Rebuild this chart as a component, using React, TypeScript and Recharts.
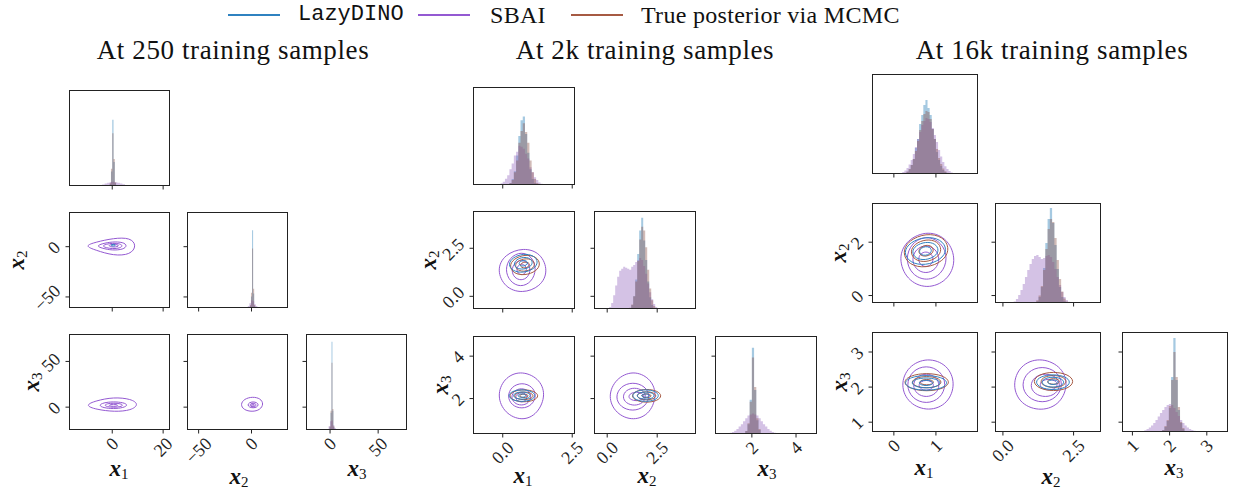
import React from 'react';
import { ComposedChart, Area, Line, XAxis, YAxis } from 'recharts';

const SERIF = '"Liberation Serif", "Times New Roman", "DejaVu Serif", serif';
const MONO = '"Liberation Mono", "DejaVu Sans Mono", monospace';
const INK = '#222';

// series order everywhere: LazyDINO, SBAI, MCMC
const seriesNames = ['LazyDINO', 'SBAI', 'True posterior via MCMC'];
const lineColors = ['#2f82c0', '#9459d2', '#a65a43'];
const fillColors = ['#1f77b4', '#9467bd', '#8c564b'];

type Hist = { from: number; step: number; counts: number[] };
type Axis = { domain: [number, number]; ticks: number[]; fmt: (v: number) => string };

const fmtInt = (v: number) => String(v).replace('-', '\u2212');
const fmtOne = (v: number) => v.toFixed(1).replace('-', '\u2212');

// ---------- 250 training samples ----------
const x1Ticks250 = [0, 20];
const x2Ticks250 = [-50, 0];
const x3Ticks250 = [0, 50];

const lazy250X1: Hist = { from: -1, step: 0.5, counts: [0.02, 0.15, 0.69, 0.25, 0.03] };
const sbai250X1: Hist = { from: -6, step: 1, counts: [0.003, 0.008, 0.015, 0.025, 0.035, 0.042, 0.045, 0.04, 0.035, 0.025, 0.018, 0.01, 0.004] };
const mcmc250X1: Hist = { from: -1, step: 0.5, counts: [0.03, 0.18, 0.55, 0.28, 0.04] };
const lazy250X2: Hist = { from: -1.5, step: 1, counts: [0.02, 0.12, 0.81, 0.15, 0.02] };
const sbai250X2: Hist = { from: -5, step: 1.5, counts: [0.005, 0.02, 0.05, 0.08, 0.07, 0.04, 0.02, 0.008, 0.003] };
const mcmc250X2: Hist = { from: -1.5, step: 1, counts: [0.03, 0.16, 0.62, 0.2, 0.03] };
const lazy250X3: Hist = { from: -0.5, step: 1, counts: [0.03, 0.18, 0.92, 0.2, 0.03] };
const sbai250X3: Hist = { from: -3, step: 1.5, counts: [0.01, 0.04, 0.09, 0.1, 0.05, 0.02, 0.005] };
const mcmc250X3: Hist = { from: -0.5, step: 1, counts: [0.04, 0.2, 0.7, 0.22, 0.04] };

// contour levels, each a closed ring [x0, y0, x1, y1, ...]
const lazy250X1X2 = [[1.3, 1.5, 1.0, 2.1, 0.4, 2.4, -0.2, 2.1, -0.5, 1.5, -0.2, 0.9, 0.4, 0.6, 1.0, 0.9]];
const sbai250X1X2 = [
  [9.6, 1.0, 7.2, 9.0, 0.5, 8.5, -6.5, 4.5, -11, 0.8, -6.5, -3.5, 0.5, -9.0, 7.2, -8.0],
  [5.9, 1.0, 4.4, 4.5, 0, 5.0, -4.0, 3.0, -6.2, 0.7, -4.0, -1.6, 0, -3.7, 4.4, -2.8],
  [4.2, 0.9, 3.0, 3.0, 0.2, 3.6, -2.6, 2.4, -3.9, 0.7, -2.6, -1.0, 0.2, -2.2, 3.0, -1.5],
  [2.6, 1.0, 2.0, 2.0, 0.6, 2.43, -0.8, 2.0, -1.4, 1.0, -0.8, 0, 0.6, -0.43, 2.0, 0],
];
const sbai250X1X3 = [
  [10.5, 3.0, 7.5, 9.0, 0.5, 11.0, -6.5, 7.0, -10.8, 2.0, -6.5, -2.5, 1.0, -5.2, 7.5, -3.5],
  [6.2, 2.3, 4.5, 5.0, 0.45, 6.1, -3.6, 4.8, -5.3, 2.0, -3.6, -0.7, 0.45, -1.9, 4.5, -0.6],
  [4.3, 2.1, 3.3, 3.8, 0.6, 4.5, -2.1, 3.8, -3.1, 2.1, -2.1, 0.4, 0.6, -0.3, 3.3, 0.4],
  [2.3, 2.0, 1.75, 2.86, 0.5, 3.2, -0.75, 2.86, -1.3, 2.0, -0.75, 1.14, 0.5, 0.8, 1.75, 1.14],
];
const sbai250X2X3 = [
  [11.5, 3.5, 8.5, 9.5, 1.0, 11.5, -7.0, 9.0, -10.5, 3.0, -7.5, -3.0, 0.6, -5.2, 8.2, -3.0],
  [6.7, 2.6, 5.2, 5.0, 1.5, 6.0, -2.2, 5.0, -3.7, 2.4, -2.2, 0, 1.5, -1.0, 5.2, 0],
  [4.6, 2.3, 3.7, 3.8, 1.5, 4.4, -0.7, 3.8, -1.6, 2.3, -0.7, 0.8, 1.5, 0.2, 3.7, 0.8],
  [2.84, 2.2, 2.4, 3.0, 1.3, 3.3, 0.2, 3.0, -0.24, 2.2, 0.2, 1.4, 1.3, 1.1, 2.4, 1.4],
];

// ---------- 2k training samples ----------
const x1Ticks2k = [0, 2.5];
const x2Ticks2k = [0, 2.5];
const x3Ticks2k = [2, 4];

const lazy2kX1: Hist = { from: 0.24, step: 0.08, counts: [0.02, 0.06, 0.14, 0.3, 0.5, 0.66, 0.7, 0.52, 0.33, 0.16, 0.06, 0.02] };
const sbai2kX1: Hist = { from: -0.32, step: 0.08, counts: [0.002, 0.005, 0.009, 0.018, 0.034, 0.064, 0.1, 0.16, 0.22, 0.3, 0.34, 0.4, 0.39, 0.37, 0.32, 0.27, 0.18, 0.13, 0.08, 0.05, 0.025, 0.012, 0.006, 0.002] };
const mcmc2kX1: Hist = { from: 0.24, step: 0.08, counts: [0.02, 0.05, 0.13, 0.25, 0.43, 0.55, 0.63, 0.54, 0.43, 0.25, 0.13, 0.06, 0.02] };
const lazy2kX2: Hist = { from: 1.1, step: 0.1, counts: [0.01, 0.04, 0.13, 0.3, 0.56, 0.8, 0.93, 0.7, 0.5, 0.28, 0.12, 0.04, 0.01] };
const sbai2kX2: Hist = { from: 0.1, step: 0.1, counts: [0.02, 0.06, 0.14, 0.24, 0.33, 0.39, 0.41, 0.43, 0.42, 0.41, 0.4, 0.43, 0.45, 0.48, 0.5, 0.52, 0.5, 0.44, 0.36, 0.26, 0.17, 0.1, 0.05, 0.02, 0.01] };
const mcmc2kX2: Hist = { from: 1.1, step: 0.1, counts: [0.014, 0.047, 0.13, 0.28, 0.49, 0.71, 0.84, 0.8, 0.63, 0.4, 0.21, 0.09, 0.03, 0.01] };
const lazy2kX3: Hist = { from: 1.7, step: 0.1, counts: [0.03, 0.1, 0.35, 0.88, 0.45, 0.14, 0.04, 0.01] };
const sbai2kX3: Hist = { from: 0.6, step: 0.1, counts: [0.001, 0.002, 0.004, 0.007, 0.012, 0.021, 0.034, 0.052, 0.076, 0.1, 0.13, 0.16, 0.19, 0.2, 0.21, 0.2, 0.19, 0.16, 0.13, 0.1, 0.076, 0.052, 0.034, 0.021, 0.012, 0.007, 0.004, 0.002, 0.001] };
const mcmc2kX3: Hist = { from: 1.7, step: 0.1, counts: [0.03, 0.11, 0.33, 0.78, 0.48, 0.16, 0.05, 0.01] };

const lazy2kX1X2 = [
  [1.29, 1.78, 1.13, 2.13, 0.74, 2.23, 0.35, 2.02, 0.19, 1.66, 0.35, 1.31, 0.74, 1.21, 1.13, 1.42],
  [1.09, 1.76, 0.99, 1.99, 0.74, 2.05, 0.49, 1.92, 0.39, 1.68, 0.49, 1.45, 0.74, 1.39, 0.99, 1.52],
  [0.905, 1.74, 0.857, 1.846, 0.74, 1.875, 0.623, 1.812, 0.575, 1.7, 0.623, 1.594, 0.74, 1.565, 0.857, 1.628],
];
const sbai2kX1X2 = [
  [1.64, 1.3, 1.38, 2.25, 0.75, 2.55, 0.06, 2.18, -0.22, 1.38, 0.07, 0.45, 0.7, 0.14, 1.36, 0.5],
  [1.22, 1.42, 1.06, 2.06, 0.67, 2.34, 0.24, 2.02, 0.08, 1.38, 0.25, 0.76, 0.64, 0.46, 1.05, 0.74],
  [1.01, 1.38, 0.91, 1.76, 0.67, 1.91, 0.41, 1.74, 0.31, 1.34, 0.41, 0.97, 0.66, 0.81, 0.91, 0.98],
  [0.87, 1.41, 0.81, 1.61, 0.68, 1.7, 0.55, 1.61, 0.49, 1.39, 0.55, 1.19, 0.68, 1.1, 0.81, 1.19],
];
const mcmc2kX1X2 = [
  [1.37, 1.68, 1.21, 2.08, 0.8, 2.18, 0.39, 1.96, 0.23, 1.58, 0.39, 1.18, 0.8, 1.08, 1.21, 1.3],
  [1.17, 1.66, 1.065, 1.92, 0.8, 1.98, 0.535, 1.84, 0.43, 1.6, 0.535, 1.34, 0.8, 1.28, 1.065, 1.42],
  [0.976, 1.645, 0.925, 1.765, 0.8, 1.795, 0.675, 1.73, 0.624, 1.615, 0.675, 1.495, 0.8, 1.465, 0.925, 1.53],
];
const lazy2kX1X3 = [
  [1.2, 2.14, 1.05, 2.35, 0.69, 2.44, 0.33, 2.35, 0.18, 2.14, 0.33, 1.93, 0.69, 1.84, 1.05, 1.93],
  [1.02, 2.14, 0.924, 2.273, 0.69, 2.327, 0.456, 2.273, 0.36, 2.14, 0.456, 2.007, 0.69, 1.953, 0.924, 2.007],
  [0.844, 2.14, 0.799, 2.202, 0.69, 2.228, 0.581, 2.202, 0.536, 2.14, 0.581, 2.078, 0.69, 2.052, 0.799, 2.078],
];
const sbai2kX1X3 = [
  [1.56, 2.2, 1.3, 2.98, 0.62, 3.33, 0.03, 2.95, -0.21, 2.12, 0.07, 1.3, 0.7, 0.93, 1.27, 1.28],
  [1.22, 2.15, 1.065, 2.58, 0.69, 2.76, 0.315, 2.57, 0.16, 2.11, 0.315, 1.68, 0.69, 1.5, 1.065, 1.69],
  [1.045, 2.09, 0.935, 2.38, 0.67, 2.5, 0.405, 2.38, 0.295, 2.07, 0.405, 1.78, 0.67, 1.66, 0.935, 1.78],
  [0.89, 2.06, 0.826, 2.23, 0.67, 2.3, 0.514, 2.23, 0.45, 2.06, 0.514, 1.89, 0.67, 1.82, 0.826, 1.89],
];
const mcmc2kX1X3 = [
  [1.31, 2.13, 1.15, 2.35, 0.76, 2.44, 0.37, 2.35, 0.21, 2.13, 0.37, 1.91, 0.76, 1.82, 1.15, 1.91],
  [1.123, 2.13, 1.017, 2.27, 0.76, 2.328, 0.503, 2.27, 0.397, 2.13, 0.503, 1.99, 0.76, 1.932, 1.017, 1.99],
  [0.925, 2.13, 0.877, 2.192, 0.76, 2.218, 0.643, 2.192, 0.595, 2.13, 0.643, 2.068, 0.76, 2.042, 0.877, 2.068],
];
const lazy2kX2X3 = [
  [2.62, 2.14, 2.42, 2.35, 1.92, 2.44, 1.42, 2.35, 1.22, 2.14, 1.42, 1.93, 1.92, 1.84, 2.42, 1.93],
  [2.38, 2.14, 2.25, 2.273, 1.92, 2.327, 1.59, 2.273, 1.46, 2.14, 1.59, 2.007, 1.92, 1.953, 2.25, 2.007],
  [2.14, 2.14, 2.076, 2.202, 1.92, 2.228, 1.764, 2.202, 1.7, 2.14, 1.764, 2.078, 1.92, 2.052, 2.076, 2.078],
];
const sbai2kX2X3 = [
  [2.5, 2.25, 2.14, 2.98, 1.3, 3.33, 0.42, 2.95, 0.02, 2.1, 0.42, 1.28, 1.32, 0.93, 2.18, 1.3],
  [2.16, 2.12, 1.9, 2.59, 1.28, 2.79, 0.66, 2.58, 0.4, 2.07, 0.66, 1.59, 1.28, 1.39, 1.9, 1.6],
  [1.965, 2.11, 1.79, 2.4, 1.36, 2.53, 0.93, 2.4, 0.755, 2.08, 0.93, 1.78, 1.36, 1.65, 1.79, 1.78],
  [1.87, 2.11, 1.75, 2.256, 1.46, 2.32, 1.17, 2.256, 1.05, 2.09, 1.17, 1.944, 1.46, 1.88, 1.75, 1.944],
];
const mcmc2kX2X3 = [
  [2.75, 2.13, 2.52, 2.364, 1.97, 2.46, 1.42, 2.364, 1.19, 2.13, 1.42, 1.896, 1.97, 1.8, 2.52, 1.896],
  [2.476, 2.13, 2.33, 2.278, 1.97, 2.34, 1.61, 2.278, 1.464, 2.13, 1.61, 1.982, 1.97, 1.92, 2.33, 1.982],
  [2.212, 2.13, 2.142, 2.2, 1.97, 2.23, 1.798, 2.2, 1.728, 2.13, 1.798, 2.06, 1.97, 2.03, 2.142, 2.06],
];

// ---------- 16k training samples ----------
const x1Ticks16k = [0, 1];
const x2Ticks16k = [0, 2.5];
const x2RowTicks16k = [0, 2];
const x3Ticks16k = [1, 2, 3];

const lazy16kX1: Hist = { from: 0.2, step: 0.05, counts: [0.004, 0.01, 0.022, 0.048, 0.089, 0.15, 0.26, 0.35, 0.5, 0.59, 0.69, 0.74, 0.66, 0.59, 0.45, 0.35, 0.22, 0.14, 0.079, 0.041, 0.02, 0.008, 0.003] };
const sbai16kX1: Hist = { from: 0.05, step: 0.05, counts: [0.003, 0.006, 0.011, 0.02, 0.036, 0.06, 0.094, 0.14, 0.2, 0.27, 0.35, 0.42, 0.49, 0.53, 0.56, 0.55, 0.52, 0.46, 0.39, 0.32, 0.24, 0.175, 0.12, 0.078, 0.05, 0.029, 0.016, 0.008, 0.004, 0.002] };
const mcmc16kX1: Hist = { from: 0.2, step: 0.05, counts: [0.005, 0.012, 0.025, 0.05, 0.09, 0.15, 0.23, 0.33, 0.44, 0.53, 0.6, 0.63, 0.62, 0.55, 0.45, 0.35, 0.25, 0.16, 0.1, 0.055, 0.027, 0.012, 0.005] };
const lazy16kX2: Hist = { from: 1.1, step: 0.08, counts: [0.004, 0.018, 0.06, 0.16, 0.35, 0.6, 0.84, 0.95, 0.8, 0.58, 0.34, 0.16, 0.06, 0.018, 0.004] };
const sbai16kX2: Hist = { from: 0.3, step: 0.08, counts: [0.004, 0.015, 0.04, 0.08, 0.13, 0.19, 0.26, 0.33, 0.39, 0.44, 0.47, 0.48, 0.46, 0.44, 0.45, 0.47, 0.48, 0.46, 0.41, 0.34, 0.26, 0.18, 0.11, 0.06, 0.03, 0.012, 0.004] };
const mcmc16kX2: Hist = { from: 1.1, step: 0.08, counts: [0.008, 0.027, 0.074, 0.17, 0.33, 0.54, 0.74, 0.84, 0.81, 0.65, 0.43, 0.24, 0.115, 0.045, 0.015, 0.004] };
const lazy16kX3: Hist = { from: 1.8, step: 0.06, counts: [0.02, 0.05, 0.11, 0.24, 0.55, 0.94, 0.52, 0.22, 0.09, 0.03, 0.01] };
const sbai16kX3: Hist = { from: 1.2, step: 0.06, counts: [0.005, 0.01, 0.018, 0.03, 0.045, 0.065, 0.09, 0.12, 0.155, 0.19, 0.22, 0.25, 0.27, 0.28, 0.27, 0.24, 0.2, 0.16, 0.12, 0.09, 0.065, 0.045, 0.03, 0.02, 0.013, 0.008, 0.005, 0.003, 0.001] };
const mcmc16kX3: Hist = { from: 1.8, step: 0.06, counts: [0.02, 0.06, 0.12, 0.26, 0.52, 0.8, 0.55, 0.25, 0.1, 0.04, 0.01] };

const lazy16kX1X2 = [
  [1.28, 1.72, 1.12, 2.12, 0.75, 2.22, 0.38, 2.0, 0.22, 1.62, 0.38, 1.22, 0.75, 1.12, 1.12, 1.34],
  [1.08, 1.7, 0.984, 1.96, 0.75, 2.02, 0.516, 1.88, 0.42, 1.64, 0.516, 1.38, 0.75, 1.32, 0.984, 1.46],
  [0.904, 1.685, 0.859, 1.814, 0.75, 1.846, 0.641, 1.776, 0.596, 1.655, 0.641, 1.526, 0.75, 1.494, 0.859, 1.564],
];
const sbai16kX1X2 = [
  [1.49, 1.3, 1.3, 2.12, 0.82, 2.45, 0.3, 2.1, 0.1, 1.4, 0.3, 0.58, 0.78, 0.23, 1.28, 0.55],
  [1.29, 1.4, 1.14, 2.0, 0.78, 2.25, 0.42, 1.99, 0.27, 1.37, 0.42, 0.78, 0.78, 0.53, 1.14, 0.79],
  [1.1, 1.37, 1.0, 1.75, 0.76, 1.91, 0.52, 1.75, 0.42, 1.35, 0.52, 0.97, 0.76, 0.81, 1.0, 0.97],
  [0.947, 1.36, 0.893, 1.57, 0.76, 1.66, 0.627, 1.57, 0.573, 1.36, 0.627, 1.15, 0.76, 1.06, 0.893, 1.15],
];
const mcmc16kX1X2 = [
  [1.335, 1.74, 1.175, 2.22, 0.765, 2.34, 0.355, 2.08, 0.195, 1.62, 0.355, 1.14, 0.765, 1.02, 1.175, 1.28],
  [1.15, 1.72, 1.038, 2.04, 0.765, 2.12, 0.492, 1.944, 0.38, 1.64, 0.492, 1.32, 0.765, 1.24, 1.038, 1.416],
  [0.952, 1.7, 0.898, 1.86, 0.765, 1.9, 0.632, 1.812, 0.578, 1.66, 0.632, 1.5, 0.765, 1.46, 0.898, 1.548],
];
const lazy16kX1X3 = [
  [1.305, 2.12, 1.145, 2.284, 0.765, 2.35, 0.385, 2.284, 0.225, 2.12, 0.385, 1.956, 0.765, 1.89, 1.145, 1.956],
  [1.128, 2.12, 1.022, 2.229, 0.765, 2.274, 0.508, 2.229, 0.402, 2.12, 0.508, 2.011, 0.765, 1.966, 1.022, 2.011],
  [0.941, 2.12, 0.89, 2.179, 0.765, 2.203, 0.64, 2.179, 0.589, 2.12, 0.64, 2.061, 0.765, 2.037, 0.89, 2.061],
];
const sbai16kX1X3 = [
  [1.47, 2.1, 1.28, 2.64, 0.8, 2.85, 0.33, 2.6, 0.15, 2.05, 0.35, 1.52, 0.83, 1.3, 1.29, 1.52],
  [1.255, 2.08, 1.113, 2.47, 0.77, 2.63, 0.427, 2.47, 0.285, 2.06, 0.427, 1.67, 0.77, 1.51, 1.113, 1.67],
  [1.1, 2.05, 1.004, 2.3, 0.77, 2.4, 0.536, 2.3, 0.44, 2.05, 0.536, 1.8, 0.77, 1.7, 1.004, 1.8],
  [0.957, 2.05, 0.903, 2.159, 0.77, 2.204, 0.637, 2.159, 0.583, 2.05, 0.637, 1.941, 0.77, 1.896, 0.903, 1.941],
];
const mcmc16kX1X3 = [
  [1.35, 2.14, 1.186, 2.33, 0.78, 2.41, 0.374, 2.33, 0.21, 2.14, 0.374, 1.95, 0.78, 1.87, 1.186, 1.95],
  [1.154, 2.14, 1.045, 2.265, 0.78, 2.316, 0.515, 2.265, 0.406, 2.14, 0.515, 2.015, 0.78, 1.964, 1.045, 2.015],
  [0.956, 2.14, 0.905, 2.199, 0.78, 2.223, 0.655, 2.199, 0.604, 2.14, 0.655, 2.081, 0.78, 2.057, 0.905, 2.081],
];
const lazy16kX2X3 = [
  [2.41, 2.14, 2.226, 2.304, 1.77, 2.37, 1.314, 2.304, 1.13, 2.14, 1.314, 1.976, 1.77, 1.91, 2.226, 1.976],
  [2.19, 2.14, 2.066, 2.249, 1.77, 2.294, 1.474, 2.249, 1.35, 2.14, 1.474, 2.031, 1.77, 1.986, 2.066, 2.031],
  [1.97, 2.14, 1.91, 2.19, 1.77, 2.212, 1.63, 2.19, 1.57, 2.14, 1.63, 2.09, 1.77, 2.068, 1.91, 2.09],
];
const sbai16kX2X3 = [
  [2.33, 2.12, 2.03, 2.62, 1.3, 2.85, 0.6, 2.63, 0.32, 2.05, 0.62, 1.5, 1.36, 1.3, 2.05, 1.52],
  [2.14, 2.09, 1.92, 2.45, 1.39, 2.61, 0.86, 2.45, 0.64, 2.06, 0.86, 1.69, 1.39, 1.53, 1.92, 1.69],
  [2.05, 2.07, 1.89, 2.3, 1.5, 2.4, 1.11, 2.3, 0.95, 2.04, 1.11, 1.8, 1.5, 1.7, 1.89, 1.8],
  [1.95, 2.08, 1.854, 2.187, 1.62, 2.235, 1.386, 2.187, 1.29, 2.07, 1.386, 1.953, 1.62, 1.905, 1.854, 1.953],
];
const mcmc16kX2X3 = [
  [2.54, 2.16, 2.32, 2.363, 1.79, 2.446, 1.26, 2.363, 1.04, 2.16, 1.26, 1.957, 1.79, 1.874, 2.32, 1.957],
  [2.274, 2.16, 2.133, 2.293, 1.79, 2.347, 1.447, 2.293, 1.306, 2.16, 1.447, 2.027, 1.79, 1.973, 2.133, 2.027],
  [2.02, 2.16, 1.954, 2.222, 1.79, 2.248, 1.626, 2.222, 1.56, 2.16, 1.626, 2.098, 1.79, 2.072, 1.954, 2.098],
];

// ---------- helpers ----------
const histPoints = (h: Hist) => [
  ...h.counts.map((c, i) => ({ x: h.from + i * h.step, y: c })),
  { x: h.from + h.counts.length * h.step, y: 0 },
];
const ringPoints = (flat: number[]) => {
  const pts: { x: number; y: number }[] = [];
  for (let i = 0; i < flat.length; i += 2) pts.push({ x: flat[i], y: flat[i + 1] });
  return pts;
};

const TICK_FS = 18;
const glyphW: Record<string, number> = { '.': 0.25, '\u2212': 0.56 };
const textW = (s: string) => [...s].reduce((a, ch) => a + (glyphW[ch] ?? 0.5), 0) * TICK_FS;

const ML = 62, MR = 26, MT = 4, MB = 46;
const TICK_LEN = 3.5;

// tick mark + optional rotated label, drawn below the plot box
const xTick = (axisY: number, fmt?: (v: number) => string) => (p: any) => {
  const tx = p.x;
  let label = null;
  if (fmt) {
    const s = fmt(p.payload.value);
    const d = (textW(s) + 12) / Math.SQRT2;
    const cy = axisY + TICK_LEN + 3 + d / 2;
    label = (
      <text x={tx} y={cy} textAnchor="middle" dominantBaseline="central" transform={`rotate(-45 ${tx} ${cy})`}
        fontSize={TICK_FS} fontFamily={SERIF} fill={INK}>{s}</text>
    );
  }
  return (
    <g>
      <line x1={tx} x2={tx} y1={axisY} y2={axisY + TICK_LEN} stroke={INK} strokeWidth={1} />
      {label}
    </g>
  );
};
// tick mark + optional rotated label, left of the plot box
const yTick = (fmt?: (v: number) => string) => (p: any) => {
  const ty = p.y;
  let label = null;
  if (fmt) {
    const s = fmt(p.payload.value);
    const d = (textW(s) + 12) / Math.SQRT2;
    const cx = ML - TICK_LEN - 4 - d / 2;
    label = (
      <text x={cx} y={ty + 1} textAnchor="middle" dominantBaseline="central" transform={`rotate(-45 ${cx} ${ty + 1})`}
        fontSize={TICK_FS} fontFamily={SERIF} fill={INK}>{s}</text>
    );
  }
  return (
    <g>
      <line x1={ML - TICK_LEN} x2={ML} y1={ty} y2={ty} stroke={INK} strokeWidth={1} />
      {label}
    </g>
  );
};

interface PanelProps {
  left: number; top: number; w: number; h: number;
  x: Axis; y?: Axis;
  xLabels?: boolean; yLabels?: boolean;
  hists?: Hist[];          // [lazy, sbai, mcmc]
  contours?: number[][][]; // [lazy, sbai, mcmc]
}

const histOrder = [0, 1, 2];
const lineOrder = [1, 2, 0];

function Panel(p: PanelProps) {
  const W = ML + p.w + MR;
  const H = MT + p.h + MB;
  const yAx: Axis = p.y ?? { domain: [0, 1], ticks: [0], fmt: fmtInt };
  return (
    <div style={{ position: 'absolute', left: p.left - ML, top: p.top - MT, width: W, height: H }}>
      <ComposedChart width={W} height={H} margin={{ top: MT, right: MR, bottom: 0, left: 0 }}>
        <XAxis type="number" dataKey="x" domain={p.x.domain} ticks={p.x.ticks} interval={0} allowDataOverflow
          height={MB} axisLine={false} tickLine={false}
          tick={xTick(MT + p.h, p.xLabels ? p.x.fmt : undefined)} />
        <YAxis yAxisId="v" type="number" domain={yAx.domain} ticks={yAx.ticks} interval={0} allowDataOverflow
          width={ML} axisLine={false} tickLine={false}
          tick={p.y ? yTick(p.yLabels ? p.y.fmt : undefined) : false} />
        <YAxis yAxisId="d" type="number" domain={[0, 1]} hide allowDataOverflow />
        {p.hists && histOrder.map((k) => (
          <Area key={`h${k}`} yAxisId="d" data={histPoints(p.hists![k])} dataKey="y" type="stepAfter"
            stroke="none" fill={fillColors[k]} fillOpacity={0.4} baseValue={0}
            dot={false} activeDot={false} isAnimationActive={false} />
        ))}
        {p.contours && lineOrder.flatMap((k) => p.contours![k].map((ring, j) => (
          <Line key={`c${k}-${j}`} yAxisId="v" data={ringPoints(ring)} dataKey="y" type="basisClosed"
            stroke={lineColors[k]} strokeWidth={1} dot={false} activeDot={false} isAnimationActive={false} />
        )))}
      </ComposedChart>
      <div style={{ position: 'absolute', left: ML, top: MT, width: p.w, height: p.h,
        border: `1px solid ${INK}`, boxSizing: 'border-box', pointerEvents: 'none' }} />
    </div>
  );
}

interface CornerProps {
  cols: number[]; rows: number[]; w: number; h: number;
  axes: Axis[];     // x1, x2, x3 as column axes
  rowAxes: Axis[];  // x2, x3 as row axes (index 1, 2)
  hists: Hist[][];
  pairs: number[][][][]; // (x1,x2), (x1,x3), (x2,x3)
}

function Corner(c: CornerProps) {
  const { cols, rows, w, h } = c;
  return (
    <>
      <Panel left={cols[0]} top={rows[0]} w={w} h={h} x={c.axes[0]} hists={c.hists[0]} />
      <Panel left={cols[0]} top={rows[1]} w={w} h={h} x={c.axes[0]} y={c.rowAxes[1]} yLabels contours={c.pairs[0]} />
      <Panel left={cols[1]} top={rows[1]} w={w} h={h} x={c.axes[1]} y={c.rowAxes[1]} hists={c.hists[1]} />
      <Panel left={cols[0]} top={rows[2]} w={w} h={h} x={c.axes[0]} y={c.rowAxes[2]} xLabels yLabels contours={c.pairs[1]} />
      <Panel left={cols[1]} top={rows[2]} w={w} h={h} x={c.axes[1]} y={c.rowAxes[2]} xLabels contours={c.pairs[2]} />
      <Panel left={cols[2]} top={rows[2]} w={w} h={h} x={c.axes[2]} y={c.rowAxes[2]} xLabels hists={c.hists[2]} />
    </>
  );
}

function VarLabel({ x, y, n, vertical }: { x: number; y: number; n: number; vertical?: boolean }) {
  return (
    <div style={{ position: 'absolute', left: x, top: y, transform: `translate(-50%, -50%)${vertical ? ' rotate(-90deg)' : ''}`,
      fontFamily: SERIF, fontSize: 23, lineHeight: 1, whiteSpace: 'nowrap', color: '#111' }}>
      <b><i>x</i></b><sub style={{ fontSize: 15, verticalAlign: -3 }}>{n}</sub>
    </div>
  );
}

const titles = ['At 250 training samples', 'At 2k training samples', 'At 16k training samples'];
const titleX = [233, 645, 1052];
const legendLineX = [228, 418, 571];
const legendTextX = [298, 490, 641];

export default function App() {
  const ax250: Axis[] = [
    { domain: [-17, 22.7], ticks: x1Ticks250, fmt: fmtInt },
    { domain: [-61, 34.5], ticks: x2Ticks250, fmt: fmtInt },
    { domain: [-25, 80], ticks: x3Ticks250, fmt: fmtInt },
  ];
  const ax2k: Axis[] = [
    { domain: [-1.07, 2.6], ticks: x1Ticks2k, fmt: fmtOne },
    { domain: [-0.66, 4.44], ticks: x2Ticks2k, fmt: fmtOne },
    { domain: [0.33, 4.95], ticks: x3Ticks2k, fmt: fmtInt },
  ];
  const ax16k: Axis[] = [
    { domain: [-0.52, 2.0], ticks: x1Ticks16k, fmt: fmtInt },
    { domain: [-0.28, 3.47], ticks: x2Ticks16k, fmt: fmtOne },
    { domain: [0.72, 3.57], ticks: x3Ticks16k, fmt: fmtInt },
  ];
  const row16k: Axis[] = [ax16k[0], { domain: [-0.28, 3.47], ticks: x2RowTicks16k, fmt: fmtInt }, ax16k[2]];

  return (
    <div style={{ position: 'absolute', left: 0, top: 0, width: 1235, height: 491, background: '#fff', overflow: 'hidden' }}>
      {seriesNames.map((name, i) => (
        <React.Fragment key={name}>
          <div style={{ position: 'absolute', left: legendLineX[i], top: 14, width: 52, height: 1.5, background: lineColors[i] }} />
          <div style={{ position: 'absolute', left: legendTextX[i], top: 15, transform: 'translateY(-50%)',
            fontFamily: i === 0 ? MONO : SERIF, fontSize: i === 0 ? 22 : 24, letterSpacing: i === 0 ? 0 : 0.3,
            lineHeight: 1, whiteSpace: 'nowrap', color: '#111' }}>{name}</div>
        </React.Fragment>
      ))}
      {titles.map((t, i) => (
        <div key={t} style={{ position: 'absolute', left: titleX[i], top: 50, transform: 'translate(-50%, -50%)',
          fontFamily: SERIF, fontSize: 27, letterSpacing: 0.6, lineHeight: 1, whiteSpace: 'nowrap', color: '#111' }}>{t}</div>
      ))}

      <Corner cols={[69, 187, 306]} rows={[90, 212, 334]} w={101} h={96} axes={ax250} rowAxes={ax250}
        hists={[[lazy250X1, sbai250X1, mcmc250X1], [lazy250X2, sbai250X2, mcmc250X2], [lazy250X3, sbai250X3, mcmc250X3]]}
        pairs={[[lazy250X1X2, sbai250X1X2, []], [[], sbai250X1X3, []], [[], sbai250X2X3, []]]} />
      <Corner cols={[473, 594, 715]} rows={[87, 211, 336]} w={102} h={98} axes={ax2k} rowAxes={ax2k}
        hists={[[lazy2kX1, sbai2kX1, mcmc2kX1], [lazy2kX2, sbai2kX2, mcmc2kX2], [lazy2kX3, sbai2kX3, mcmc2kX3]]}
        pairs={[[lazy2kX1X2, sbai2kX1X2, mcmc2kX1X2], [lazy2kX1X3, sbai2kX1X3, mcmc2kX1X3], [lazy2kX2X3, sbai2kX2X3, mcmc2kX2X3]]} />
      <Corner cols={[872, 995, 1122]} rows={[74, 203, 332]} w={106} h={100} axes={ax16k} rowAxes={row16k}
        hists={[[lazy16kX1, sbai16kX1, mcmc16kX1], [lazy16kX2, sbai16kX2, mcmc16kX2], [lazy16kX3, sbai16kX3, mcmc16kX3]]}
        pairs={[[lazy16kX1X2, sbai16kX1X2, mcmc16kX1X2], [lazy16kX1X3, sbai16kX1X3, mcmc16kX1X3], [lazy16kX2X3, sbai16kX2X3, mcmc16kX2X3]]} />

      <VarLabel x={119} y={469} n={1} />
      <VarLabel x={239} y={477} n={2} />
      <VarLabel x={357} y={469} n={3} />
      <VarLabel x={17} y={260} n={2} vertical />
      <VarLabel x={32} y={382} n={3} vertical />

      <VarLabel x={523} y={476} n={1} />
      <VarLabel x={647} y={476} n={2} />
      <VarLabel x={767} y={469} n={3} />
      <VarLabel x={429} y={260} n={2} vertical />
      <VarLabel x={441} y={385} n={3} vertical />

      <VarLabel x={924} y={468} n={1} />
      <VarLabel x={1051} y={477} n={2} />
      <VarLabel x={1174} y={468} n={3} />
      <VarLabel x={839} y={253} n={2} vertical />
      <VarLabel x={840} y={382} n={3} vertical />
    </div>
  );
}
